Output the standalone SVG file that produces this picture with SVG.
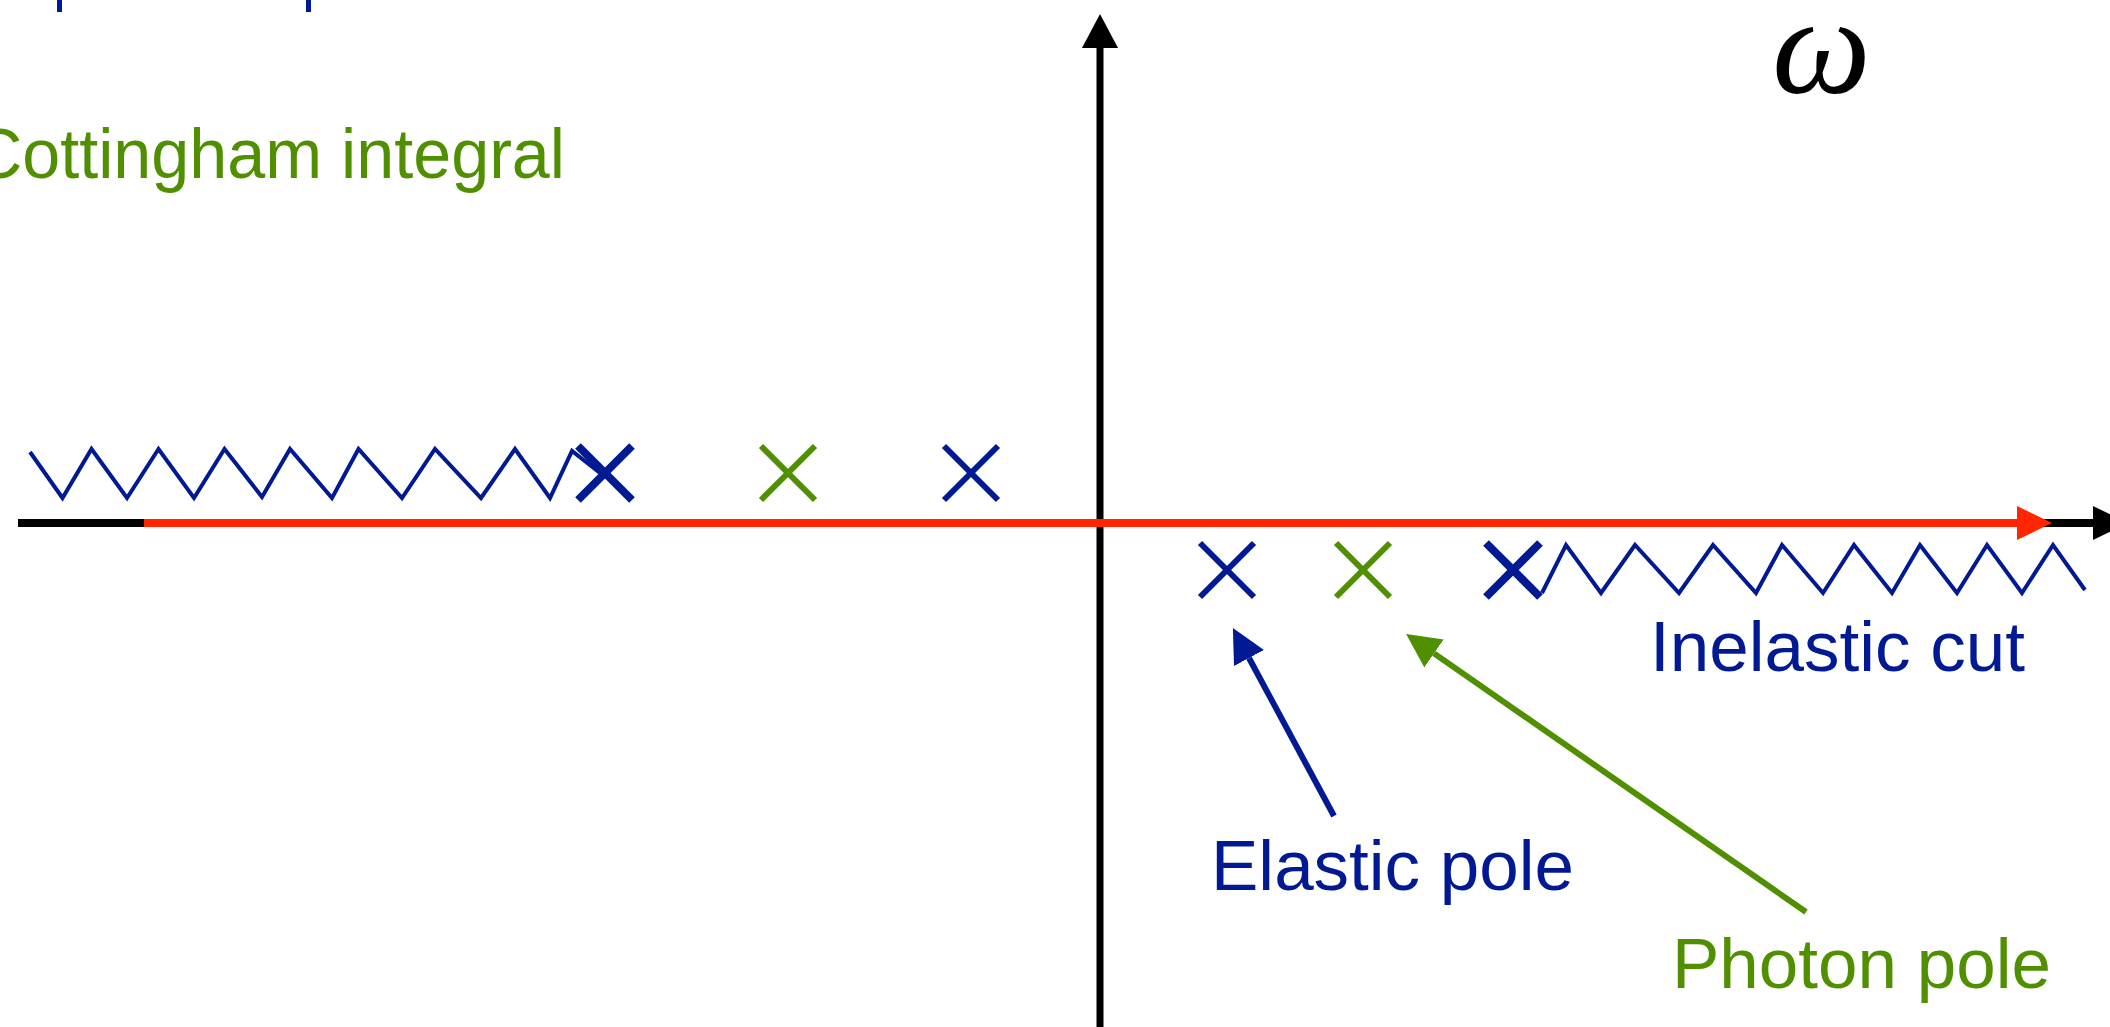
<svg xmlns="http://www.w3.org/2000/svg" width="2110" height="1027" viewBox="0 0 2110 1027">
<style>
.lbl{font-family:"Liberation Sans",Arial,sans-serif;font-size:71px}
.blue{fill:#011993}
.green{fill:#4F8F00}
.zig{fill:none;stroke:#011993;stroke-width:4;stroke-linejoin:miter}
.xb{stroke:#011993;stroke-width:6}
.xg{stroke:#4F8F00;stroke-width:6}
.xbb{stroke:#011993;stroke-width:8}
</style>
<defs>
<g id="cross"><line x1="-27" y1="-27" x2="27" y2="27"/><line x1="-27" y1="27" x2="27" y2="-27"/></g>
<marker id="headBlue" markerUnits="userSpaceOnUse" viewBox="0 -17 34 34" markerWidth="34" markerHeight="34" refX="0" refY="0" orient="auto"><path d="M0,-17 L34,0 L0,17 z" fill="#011993"/></marker>
<marker id="headGreen" markerUnits="userSpaceOnUse" viewBox="0 -17 34 34" markerWidth="34" markerHeight="34" refX="0" refY="0" orient="auto"><path d="M0,-17 L34,0 L0,17 z" fill="#4F8F00"/></marker>
</defs>
<rect width="2110" height="1027" fill="#ffffff"/>

<g id="cut-top-text" fill="#011993">
<rect x="57" y="0" width="5" height="12"/>
<rect x="306" y="0" width="5" height="12"/>
</g>

<g id="axes">
<line x1="18" y1="523" x2="2093" y2="523" stroke="#000" stroke-width="8"/>
<polygon points="2093,506 2128,523 2093,540" fill="#000"/>
<line x1="1100" y1="48" x2="1100" y2="1027" stroke="#000" stroke-width="7"/>
<polygon points="1082,48 1100,14 1118,48" fill="#000"/>
</g>

<g id="contour">
<line x1="144" y1="523" x2="2018" y2="523" stroke="#FF2600" stroke-width="8"/>
<polygon points="2017,506 2052,523 2017,540" fill="#FF2600"/>
</g>

<g id="left-cut">
<polyline class="zig" points="30,452 62.5,498 91.5,449 127,498 158.5,449 194,498 224.5,449 262,497 290,449 332,498 358.5,449 402,498 435,449 481,498 515,449 550,498 572,451 600,473"/>
</g>
<g id="right-cut">
<polyline class="zig" points="1542,593 1566,545 1601,593 1635,545 1679,593 1713,545 1756,593 1782,545 1823,593 1854,545 1892,593 1920,545 1957,593 1987,545 2022,593 2053,545 2085,590"/>
</g>

<g id="pole-left-bold" class="xbb"><use href="#cross" transform="translate(605,473)"/></g>
<g id="pole-left-green" class="xg"><use href="#cross" transform="translate(788,473)"/></g>
<g id="pole-left-blue" class="xb"><use href="#cross" transform="translate(971,473)"/></g>
<g id="pole-elastic" class="xb"><use href="#cross" transform="translate(1227,570)"/></g>
<g id="pole-photon" class="xg"><use href="#cross" transform="translate(1363,570)"/></g>
<g id="pole-right-bold" class="xbb"><use href="#cross" transform="translate(1513,570)"/></g>

<g id="connectors">
<line x1="1334" y1="816" x2="1249" y2="658" stroke="#011993" stroke-width="6" marker-end="url(#headBlue)"/>
<line x1="1806" y1="912" x2="1434" y2="653.4" stroke="#4F8F00" stroke-width="6" marker-end="url(#headGreen)"/>
</g>

<g id="label-cottingham"><text class="lbl green" x="-27" y="178" textLength="592" lengthAdjust="spacingAndGlyphs">Cottingham integral</text></g>
<g id="label-omega"><text x="1772" y="93" font-family="'Liberation Serif','DejaVu Serif',serif" font-style="italic" font-size="140" fill="#000">ω</text></g>
<g id="label-inelastic"><text class="lbl blue" x="1650" y="671">Inelastic cut</text></g>
<g id="label-elastic"><text class="lbl blue" x="1211" y="890">Elastic pole</text></g>
<g id="label-photon"><text class="lbl green" x="1672" y="988">Photon pole</text></g>
</svg>
